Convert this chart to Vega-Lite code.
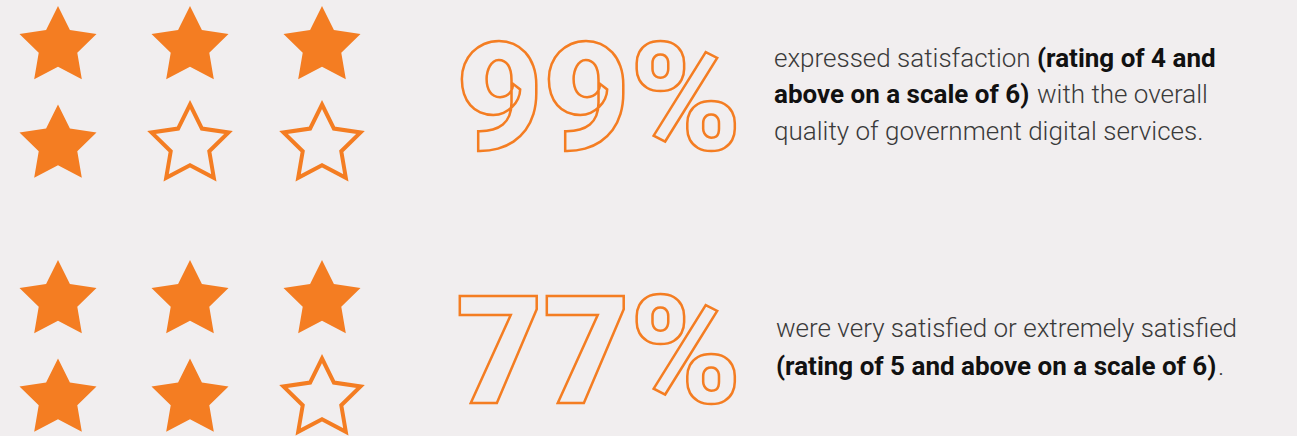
{
  "$schema": "https://vega.github.io/schema/vega-lite/v6.json",
  "width": 1297,
  "height": 436,
  "padding": 0,
  "autosize": {"type": "none"},
  "background": "#f1eeef",
  "config": {"view": {"stroke": null}},
  "datasets": {
    "stars": [
      {"group": 1, "row": 1, "col": 1, "filled": true},
      {"group": 1, "row": 1, "col": 2, "filled": true},
      {"group": 1, "row": 1, "col": 3, "filled": true},
      {"group": 1, "row": 2, "col": 1, "filled": true},
      {"group": 1, "row": 2, "col": 2, "filled": false},
      {"group": 1, "row": 2, "col": 3, "filled": false},
      {"group": 2, "row": 3, "col": 1, "filled": true},
      {"group": 2, "row": 3, "col": 2, "filled": true},
      {"group": 2, "row": 3, "col": 3, "filled": true},
      {"group": 2, "row": 4, "col": 1, "filled": true},
      {"group": 2, "row": 4, "col": 2, "filled": true},
      {"group": 2, "row": 4, "col": 3, "filled": false}
    ],
    "pct": [
      {"group": 1, "label": "99%"},
      {"group": 2, "label": "77%"}
    ],
    "notes": [
      {"group": 1, "line": 1, "start": 1, "bold": false, "text": "expressed satisfaction"},
      {"group": 1, "line": 1, "start": 5, "bold": true, "text": "(rating of 4 and"},
      {"group": 1, "line": 2, "start": 1, "bold": true, "text": "above on a scale of 6)"},
      {"group": 1, "line": 2, "start": 4, "bold": false, "text": "with the overall"},
      {"group": 1, "line": 3, "start": 1, "bold": false, "text": "quality of government digital services."},
      {"group": 2, "line": 4, "start": 2, "bold": false, "text": "were very satisfied or extremely satisfied"},
      {"group": 2, "line": 5, "start": 2, "bold": true, "text": "(rating of 5 and above on a scale of 6)"},
      {"group": 2, "line": 5, "start": 6, "bold": false, "text": "."}
    ]
  },
  "resolve": {"scale": {"x": "independent", "y": "independent"}},
  "layer": [
    {
      "data": {"name": "stars"},
      "transform": [{"filter": "datum.filled"}],
      "mark": {
        "type": "point",
        "shape": "M0,-1L0.294,-0.405L0.951,-0.309L0.476,0.155L0.588,0.809L0,0.5L-0.588,0.809L-0.476,0.155L-0.951,-0.309L-0.294,-0.405Z",
        "filled": true,
        "fill": "#f47d22",
        "opacity": 1,
        "fillOpacity": 1,
        "strokeWidth": 0,
        "size": 6561
      },
      "encoding": {
        "x": {"field": "col", "type": "quantitative", "axis": null, "scale": {"domain": [1, 3], "range": [58, 322]}},
        "y": {"field": "row", "type": "quantitative", "axis": null, "scale": {"domain": [1, 2, 3, 4], "range": [46.5, 145, 300.5, 399]}}
      }
    },
    {
      "data": {"name": "stars"},
      "transform": [{"filter": "!datum.filled"}],
      "mark": {
        "type": "point",
        "shape": "M0,-1L0.294,-0.405L0.951,-0.309L0.476,0.155L0.588,0.809L0,0.5L-0.588,0.809L-0.476,0.155L-0.951,-0.309L-0.294,-0.405Z",
        "filled": false,
        "fill": null,
        "opacity": 1,
        "stroke": "#f47d22",
        "strokeOpacity": 1,
        "strokeWidth": 4,
        "strokeJoin": "miter",
        "size": 6561
      },
      "encoding": {
        "x": {"field": "col", "type": "quantitative", "axis": null, "scale": {"domain": [1, 3], "range": [58, 322]}},
        "y": {"field": "row", "type": "quantitative", "axis": null, "scale": {"domain": [1, 2, 3, 4], "range": [46.5, 145, 300.5, 399]}}
      }
    },
    {
      "data": {"name": "pct"},
      "mark": {
        "type": "text",
        "font": "Roboto",
        "fontWeight": 900,
        "fontSize": 150,
        "align": "left",
        "baseline": "alphabetic",
        "fill": "transparent",
        "stroke": "#f47d22",
        "strokeWidth": 2.5
      },
      "encoding": {
        "x": {"field": "group", "type": "quantitative", "axis": null, "scale": {"domain": [1, 2], "range": [456, 456]}},
        "y": {"field": "group", "type": "quantitative", "axis": null, "scale": {"domain": [1, 2], "range": [150, 403]}},
        "text": {"field": "label"}
      }
    },
    {
      "data": {"name": "notes"},
      "transform": [{"filter": "!datum.bold"}],
      "mark": {"type": "text", "font": "Roboto", "fontWeight": 300, "fontSize": 26, "align": "left", "baseline": "alphabetic", "color": "#3a3a3a"},
      "encoding": {
        "x": {"field": "start", "type": "quantitative", "axis": null, "scale": {"domain": [1, 2, 3, 4, 5, 6], "range": [774, 776, 777, 1037, 1037, 1218]}},
        "y": {"field": "line", "type": "quantitative", "axis": null, "scale": {"domain": [1, 2, 3, 4, 5], "range": [66.7, 103, 140, 336.7, 375]}},
        "text": {"field": "text"}
      }
    },
    {
      "data": {"name": "notes"},
      "transform": [{"filter": "datum.bold"}],
      "mark": {"type": "text", "font": "Roboto", "fontWeight": "bold", "fontSize": 26, "align": "left", "baseline": "alphabetic", "color": "#111111"},
      "encoding": {
        "x": {"field": "start", "type": "quantitative", "axis": null, "scale": {"domain": [1, 2, 3, 4, 5, 6], "range": [774, 776, 777, 1037, 1037, 1218]}},
        "y": {"field": "line", "type": "quantitative", "axis": null, "scale": {"domain": [1, 2, 3, 4, 5], "range": [66.7, 103, 140, 336.7, 375]}},
        "text": {"field": "text"}
      }
    }
  ]
}
